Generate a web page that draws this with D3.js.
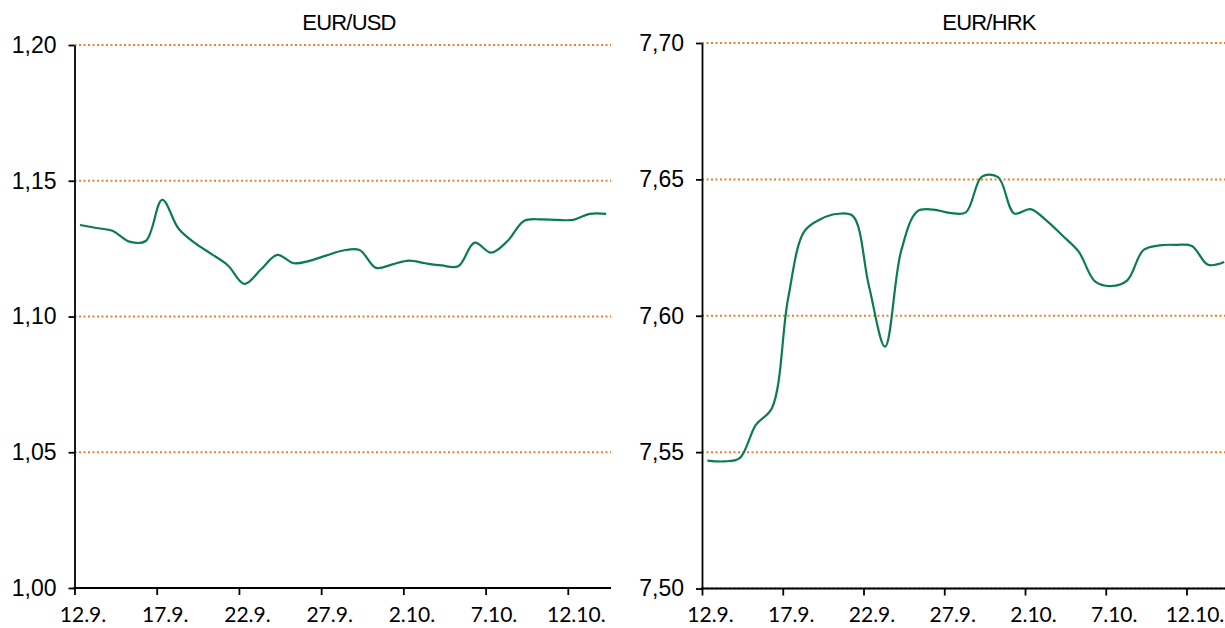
<!DOCTYPE html>
<html>
<head>
<meta charset="utf-8">
<script src="https://cdn.jsdelivr.net/npm/d3@7"></script>
<style>
  html, body { margin: 0; padding: 0; background: #fff; }
  svg { display: block; }
</style>
</head>
<body>
<svg id="chart" width="1225" height="628"></svg>
<script>
// ---------------- DATA ----------------
// daily fixing dates (rates quoted in the morning)
const dates = [
  "2015-09-12T08:00","2015-09-13T08:00","2015-09-14T08:00","2015-09-15T08:00","2015-09-16T08:00",
  "2015-09-17T08:00","2015-09-18T08:00","2015-09-19T08:00","2015-09-20T08:00","2015-09-21T08:00",
  "2015-09-22T08:00","2015-09-23T08:00","2015-09-24T08:00","2015-09-25T08:00","2015-09-26T08:00",
  "2015-09-27T08:00","2015-09-28T08:00","2015-09-29T08:00","2015-09-30T08:00","2015-10-01T08:00",
  "2015-10-02T08:00","2015-10-03T08:00","2015-10-04T08:00","2015-10-05T08:00","2015-10-06T08:00",
  "2015-10-07T08:00","2015-10-08T08:00","2015-10-09T08:00","2015-10-10T08:00","2015-10-11T08:00",
  "2015-10-12T08:00","2015-10-13T08:00","2015-10-14T08:00"
];
const eurUsd = [
  1.1337,1.1326,1.1315,1.1276,1.1278,1.1430,1.1323,1.1270,1.1230,1.1188,
  1.1120,1.1173,1.1227,1.1196,1.1206,1.1225,1.1243,1.1245,1.1179,1.1192,
  1.1206,1.1196,1.1188,1.1185,1.1272,1.1235,1.1278,1.1352,1.1358,1.1356,
  1.1356,1.1378,1.1378
];
const eurHrk = [
  7.5469,7.5466,7.5478,7.5600,7.5662,7.6064,7.6309,7.6354,7.6373,7.6366,
  7.6110,7.5887,7.6238,7.6383,7.6389,7.6377,7.6379,7.6510,7.6508,7.6375,
  7.6391,7.6349,7.6293,7.6234,7.6126,7.6109,7.6130,7.6241,7.6258,7.6260,
  7.6256,7.6187,7.6197
];
const tickDates = ["2015-09-12","2015-09-17","2015-09-22","2015-09-27","2015-10-02","2015-10-07","2015-10-12"];
const tickLabels = ["12.9.","17.9.","22.9.","27.9.","2.10.","7.10.","12.10."];
const usdTicks = [1.00, 1.05, 1.10, 1.15, 1.20];
const hrkTicks = [7.50, 7.55, 7.60, 7.65, 7.70];
const titles = ["EUR/USD", "EUR/HRK"];

// ---------------- LAYOUT ----------------
const parseDay = d3.timeParse("%Y-%m-%d");
const parseTime = d3.timeParse("%Y-%m-%dT%H:%M");
const locale = d3.formatLocale({decimal: ",", thousands: ".", grouping: [3], currency: ["", ""]});
const fmt = locale.format(".2f");

const panels = [
  {title: titles[0], values: eurUsd, ticks: usdTicks, x0: 74.5, xTickEnd: 567.8, x1: 611, y0: 45, y1: 588, titleX: 349},
  {title: titles[1], values: eurHrk, ticks: hrkTicks, x0: 702, xTickEnd: 1186.5, x1: 1225, y0: 43, y1: 588.5, titleX: 989}
];

const svg = d3.select("#chart");
const GREEN = "#0B7C4E";
const ORANGE = "#ED7D31";

panels.forEach((p, pi) => {
  const g = svg.append("g");
  const x = d3.scaleTime()
    .domain([parseDay(tickDates[0]), parseDay(tickDates[tickDates.length - 1])])
    .range([p.x0, p.xTickEnd]);
  const y = d3.scaleLinear()
    .domain([p.ticks[0], p.ticks[p.ticks.length - 1]])
    .range([p.y1, p.y0]);

  // clip to plot area
  const clipId = "clip" + pi;
  svg.append("clipPath").attr("id", clipId).append("rect")
    .attr("x", p.x0).attr("y", p.y0 - 10).attr("width", p.x1 - p.x0).attr("height", p.y1 - p.y0 + 10);

  // gridlines
  g.append("g").selectAll("line").data(p.ticks).join("line")
    .attr("x1", p.x0).attr("x2", p.x1)
    .attr("y1", d => y(d)).attr("y2", d => y(d))
    .attr("stroke", ORANGE).attr("stroke-width", 2)
    .attr("stroke-dasharray", "2 2.5");

  // line
  const data = dates.map((d, i) => ({date: parseTime(d), v: p.values[i]}));
  const line = d3.line().x(d => x(d.date)).y(d => y(d.v)).curve(d3.curveCatmullRom.alpha(0.5));
  g.append("path").datum(data)
    .attr("clip-path", `url(#${clipId})`)
    .attr("d", line)
    .attr("fill", "none")
    .attr("stroke", GREEN)
    .attr("stroke-width", 2.2)
    .attr("stroke-linejoin", "round");

  // y axis
  const yAxis = d3.axisLeft(y).tickValues(p.ticks).tickFormat(fmt).tickSize(6).tickSizeOuter(0).tickPadding(12);
  const ya = g.append("g").attr("transform", `translate(${p.x0},0)`).call(yAxis);
  ya.select(".domain").attr("stroke", "#000").attr("stroke-width", 1.8);
  ya.selectAll(".tick line").attr("stroke", "#000").attr("stroke-width", 1.8);
  ya.selectAll(".tick text")
    .attr("font-family", "'Liberation Sans', Arial, sans-serif")
    .attr("font-size", 23).attr("fill", "#000");

  // x axis
  const xAxis = d3.axisBottom(x)
    .tickValues(tickDates.map(parseDay))
    .tickFormat((d, i) => tickLabels[i])
    .tickSize(7).tickSizeOuter(0).tickPadding(12);
  const xa = g.append("g").attr("transform", `translate(0,${p.y1})`).call(xAxis);
  xa.select(".domain").remove();
  xa.selectAll(".tick line").attr("stroke", "#000").attr("stroke-width", 1.8);
  xa.selectAll(".tick text")
    .attr("dx", 8)
    .attr("font-family", "Lato, 'Open Sans', sans-serif")
    .attr("font-size", 21).attr("fill", "#000");
  g.append("line")
    .attr("x1", p.x0 - 1).attr("x2", p.x1)
    .attr("y1", p.y1).attr("y2", p.y1)
    .attr("stroke", "#000").attr("stroke-width", 1.8);

  // title
  g.append("text")
    .attr("x", p.titleX).attr("y", 30)
    .attr("text-anchor", "middle")
    .attr("font-family", "'Liberation Sans', Arial, sans-serif")
    .attr("font-size", 22)
    .attr("letter-spacing", -0.8)
    .attr("fill", "#000")
    .text(p.title);
});
</script>
</body>
</html>
